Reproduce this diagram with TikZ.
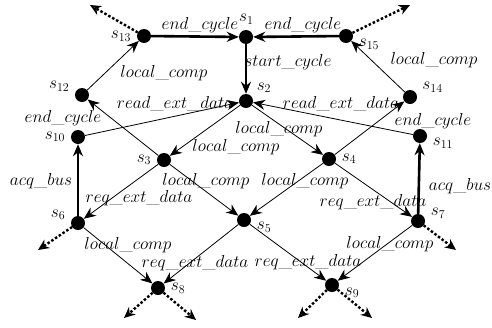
\documentclass[tikz,border=0pt]{standalone}
\usepackage{tikz}
\usetikzlibrary{arrows.meta}
\tikzset{
  stateDot/.style={circle,fill=black,minimum size=14pt,inner sep=0pt},
  stateName/.style={font=\fontsize{18}{20}\selectfont,inner sep=1.5pt},
  flowLabel/.style={font=\fontsize{19}{21}\selectfont,inner sep=0pt},
  thinFlow/.style={-{Stealth[length=12pt,width=10pt]},draw=black,line width=.8pt},
  thickFlow/.style={-{Stealth[length=12pt,width=10pt]},draw=black,line width=2.6pt},
  exitFlow/.style={-{Stealth[open,length=11pt,width=10pt,line width=1.8pt]},draw=black,
    line width=2.4pt,dash pattern=on 2.5pt off 2pt}
}
\begin{document}
\begin{tikzpicture}[x=1pt,y=-1pt,label distance=4pt]
  \useasboundingbox (0,0) rectangle (492,327);
  % states
  \node[stateDot,label={[stateName]88:$s_{1}$}] (s1) at (246,37) {};
  \node[stateDot,label={[stateName]36:$s_{2}$}] (s2) at (246,101) {};
  \node[stateDot,label={[stateName]178:$s_{3}$}] (s3) at (164,160) {};
  \node[stateDot,label={[stateName]2:$s_{4}$}] (s4) at (329,159) {};
  \node[stateDot,label={[stateName]-3:$s_{5}$}] (s5) at (244,220) {};
  \node[stateDot,label={[stateName]172:$s_{6}$}] (s6) at (78,223) {};
  \node[stateDot,label={[stateName]5:$s_{7}$}] (s7) at (418,221) {};
  \node[stateDot,label={[stateName]0:$s_{8}$}] (s8) at (158,288) {};
  \node[stateDot,label={[stateName]-5:$s_{9}$}] (s9) at (332,285) {};
  \node[stateDot,label={[stateName]178:$s_{10}$}] (s10) at (78,137) {};
  \node[stateDot,label={[stateName]-3:$s_{11}$}] (s11) at (420,136) {};
  \node[stateDot,label={[stateName]170:$s_{12}$}] (s12) at (82,95) {};
  \node[stateDot,label={[stateName]180:$s_{13}$}] (s13) at (144,36) {};
  \node[stateDot,label={[stateName]17:$s_{14}$}] (s14) at (410,97) {};
  \node[stateDot,label={[stateName]-8:$s_{15}$}] (s15) at (346,36) {};
  % free ends of the leaving transitions
  \coordinate (o13) at (90,5);
  \coordinate (o15) at (410,5);
  \coordinate (o6) at (38,250);
  \coordinate (o7) at (456,250);
  \coordinate (o8a) at (124,318);
  \coordinate (o8b) at (196,320);
  \coordinate (o9a) at (298,318);
  \coordinate (o9b) at (372,318);
  % cycle and bus transitions
  \draw[thickFlow] (s13) -- (s1);
  \draw[thickFlow] (s15) -- (s1);
  \draw[thickFlow] (s1) -- (s2);
  \draw[thickFlow] (s6) -- (s10);
  \draw[thickFlow] (s7) -- (s11);
  % ordinary transitions
  \draw[thinFlow] (s12) -- (s13);
  \draw[thinFlow] (s14) -- (s15);
  \draw[thinFlow] (s2) -- (s3);
  \draw[thinFlow] (s2) -- (s4);
  \draw[thinFlow] (s10) -- (s2);
  \draw[thinFlow] (s11) -- (s2);
  \draw[thinFlow] (s3) -- (s12);
  \draw[thinFlow] (s4) -- (s14);
  \draw[thinFlow] (s3) -- (s6);
  \draw[thinFlow] (s3) -- (s5);
  \draw[thinFlow] (s4) -- (s5);
  \draw[thinFlow] (s4) -- (s7);
  \draw[thinFlow] (s6) -- (s8);
  \draw[thinFlow] (s5) -- (s8);
  \draw[thinFlow] (s5) -- (s9);
  \draw[thinFlow] (s7) -- (s9);
  % leaving transitions
  \draw[exitFlow] (s13) -- (o13);
  \draw[exitFlow] (s15) -- (o15);
  \draw[exitFlow] (s6) -- (o6);
  \draw[exitFlow] (s7) -- (o7);
  \draw[exitFlow] (s8) -- (o8a);
  \draw[exitFlow] (s8) -- (o8b);
  \draw[exitFlow] (s9) -- (o9a);
  \draw[exitFlow] (s9) -- (o9b);
  % transition labels
  \node[flowLabel] (lEndA) at (200,25) {$end\_cycle$};
  \node[flowLabel] (lEndB) at (303,25) {$end\_cycle$};
  \node[flowLabel] (lStart) at (288,62) {$start\_cycle$};
  \node[flowLabel] (lLocA) at (164,73) {$local\_comp$};
  \node[flowLabel] (lLocB) at (434,60) {$local\_comp$};
  \node[flowLabel] (lReadA) at (175,104) {$read\_ext\_data$};
  \node[flowLabel] (lReadB) at (341,104) {$read\_ext\_data$};
  \node[flowLabel] (lEndC) at (63,118) {$end\_cycle$};
  \node[flowLabel] (lEndD) at (433,121) {$end\_cycle$};
  \node[flowLabel] (lLocC) at (279,129) {$local\_comp$};
  \node[flowLabel] (lLocD) at (236,147) {$local\_comp$};
  \node[flowLabel] (lLocE) at (206,181) {$local\_comp$};
  \node[flowLabel] (lLocF) at (305,181) {$local\_comp$};
  \node[flowLabel] (lReqA) at (139,198) {$req\_ext\_data$};
  \node[flowLabel] (lReqB) at (373,202) {$req\_ext\_data$};
  \node[flowLabel] (lAcqA) at (41,181) {$acq\_bus$};
  \node[flowLabel] (lAcqB) at (460,186) {$acq\_bus$};
  \node[flowLabel] (lLocG) at (128,245) {$local\_comp$};
  \node[flowLabel] (lReqC) at (195,263) {$req\_ext\_data$};
  \node[flowLabel] (lReqD) at (308,262) {$req\_ext\_data$};
  \node[flowLabel] (lLocH) at (390,244) {$local\_comp$};
\end{tikzpicture}
\end{document}
